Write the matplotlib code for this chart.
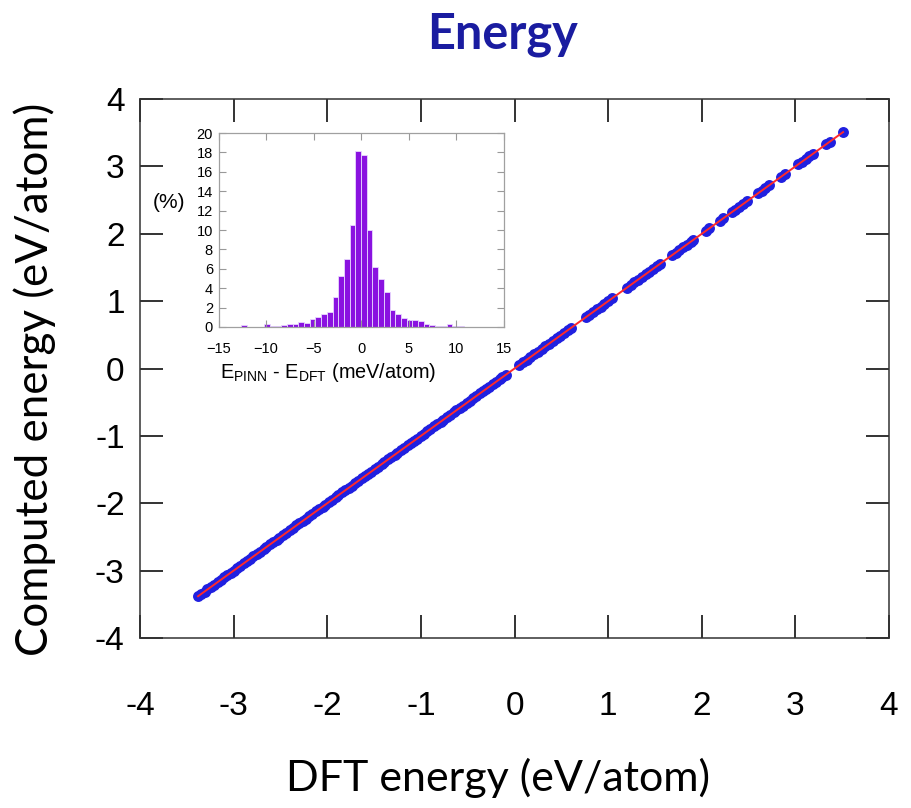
import numpy as np
import matplotlib.pyplot as plt

plt.rcParams['font.family'] = ['Liberation Sans', 'DejaVu Sans']

# parity data (eV/atom)
dft_energy = [-3.38, -3.35, -3.31, -3.28, -3.24, -3.21, -3.17, -3.14, -3.10, -3.07,
              -3.03, -3.00, -2.96, -2.93, -2.89, -2.86, -2.82, -2.79, -2.75, -2.72,
              -2.68, -2.65, -2.61, -2.58, -2.54, -2.51, -2.47, -2.44, -2.40, -2.37,
              -2.33, -2.30, -2.26, -2.23, -2.19, -2.16, -2.12, -2.09, -2.05, -2.02,
              -1.98, -1.95, -1.91, -1.88, -1.84, -1.81, -1.77, -1.74, -1.70, -1.67,
              -1.63, -1.60, -1.56, -1.53, -1.49, -1.46, -1.42, -1.39, -1.35, -1.32,
              -1.28, -1.25, -1.21, -1.18, -1.14, -1.11, -1.07, -1.04, -1.00, -0.97,
              -0.93, -0.90, -0.86, -0.83, -0.79, -0.76, -0.72, -0.69, -0.65, -0.62,
              -0.58, -0.55, -0.51, -0.48, -0.44, -0.41, -0.37, -0.34, -0.30, -0.27,
              -0.23, -0.20, -0.16, -0.13, -0.09,
              0.05, 0.09, 0.13, 0.17, 0.21, 0.25, 0.29, 0.33, 0.37, 0.41,
              0.45, 0.49, 0.53, 0.57, 0.60,
              0.76, 0.80, 0.84, 0.88, 0.92, 0.96, 1.00, 1.04,
              1.20, 1.24, 1.28, 1.32, 1.36, 1.40, 1.44, 1.48, 1.52, 1.55,
              1.68, 1.72, 1.76, 1.80, 1.84, 1.88, 1.91,
              2.04, 2.08, 2.19, 2.23, 2.32, 2.36, 2.40, 2.44, 2.48,
              2.60, 2.64, 2.68, 2.72, 2.85, 2.89,
              3.03, 3.07, 3.11, 3.15, 3.19, 3.33, 3.37, 3.51]
computed_energy = [-3.38, -3.35, -3.31, -3.28, -3.24, -3.21, -3.17, -3.14, -3.10, -3.07,
                   -3.03, -3.00, -2.96, -2.93, -2.89, -2.86, -2.82, -2.79, -2.75, -2.72,
                   -2.68, -2.65, -2.61, -2.58, -2.54, -2.51, -2.47, -2.44, -2.40, -2.37,
                   -2.33, -2.30, -2.26, -2.23, -2.19, -2.16, -2.12, -2.09, -2.05, -2.02,
                   -1.98, -1.95, -1.91, -1.88, -1.84, -1.81, -1.77, -1.74, -1.70, -1.67,
                   -1.63, -1.60, -1.56, -1.53, -1.49, -1.46, -1.42, -1.39, -1.35, -1.32,
                   -1.28, -1.25, -1.21, -1.18, -1.14, -1.11, -1.07, -1.04, -1.00, -0.97,
                   -0.93, -0.90, -0.86, -0.83, -0.79, -0.76, -0.72, -0.69, -0.65, -0.62,
                   -0.58, -0.55, -0.51, -0.48, -0.44, -0.41, -0.37, -0.34, -0.30, -0.27,
                   -0.23, -0.20, -0.16, -0.13, -0.09,
                   0.05, 0.09, 0.13, 0.17, 0.21, 0.25, 0.29, 0.33, 0.37, 0.41,
                   0.45, 0.49, 0.53, 0.57, 0.60,
                   0.76, 0.80, 0.84, 0.88, 0.92, 0.96, 1.00, 1.04,
                   1.20, 1.24, 1.28, 1.32, 1.36, 1.40, 1.44, 1.48, 1.52, 1.55,
                   1.68, 1.72, 1.76, 1.80, 1.84, 1.88, 1.91,
                   2.04, 2.08, 2.19, 2.23, 2.32, 2.36, 2.40, 2.44, 2.48,
                   2.60, 2.64, 2.68, 2.72, 2.85, 2.89,
                   3.03, 3.07, 3.11, 3.15, 3.19, 3.33, 3.37, 3.51]

# error histogram, 50 bins of 0.6 meV/atom from -15 to 15
bin_left = [-15.0, -14.4, -13.8, -13.2, -12.6, -12.0, -11.4, -10.8, -10.2, -9.6,
            -9.0, -8.4, -7.8, -7.2, -6.6, -6.0, -5.4, -4.8, -4.2, -3.6,
            -3.0, -2.4, -1.8, -1.2, -0.6, 0.0, 0.6, 1.2, 1.8, 2.4,
            3.0, 3.6, 4.2, 4.8, 5.4, 6.0, 6.6, 7.2, 7.8, 8.4,
            9.0, 9.6, 10.2, 10.8, 11.4, 12.0, 12.6, 13.2, 13.8, 14.4]
percent = [0.02, 0.02, 0.02, 0.03, 0.2, 0.05, 0.05, 0.05, 0.28, 0.1,
           0.15, 0.25, 0.3, 0.35, 0.5, 0.45, 0.8, 1.0, 1.35, 1.5,
           3.1, 5.3, 7.0, 10.5, 18.2, 17.7, 10.0, 6.2, 4.9, 3.6,
           1.75, 1.35, 0.95, 0.7, 0.75, 0.65, 0.3, 0.25, 0.15, 0.15,
           0.3, 0.15, 0.12, 0.05, 0.02, 0.02, 0.02, 0.02, 0.02, 0.02]

fig = plt.figure(figsize=(9.12, 8.08), dpi=100)
ax = fig.add_axes([0.1535, 0.2104, 0.8213, 0.667])

ax.scatter(dft_energy, computed_energy, s=62, color='#2020e0', zorder=2, linewidths=0)
ax.plot(dft_energy, computed_energy, color='#ff2a2a', lw=1.4, zorder=3)

ax.set_xlim(-4, 4)
ax.set_ylim(-4, 4)
ax.set_xticks(np.arange(-4, 5, 1))
ax.set_yticks(np.arange(-4, 5, 1))
ax.set_xticklabels(['-4', '-3', '-2', '-1', '0', '1', '2', '3', '4'])
ax.set_yticklabels(['-4', '-3', '-2', '-1', '0', '1', '2', '3', '4'])
ax.tick_params(direction='in', length=16.5, width=1.4, color='#333333',
               labelsize=24, top=True, right=True)
ax.tick_params(axis='x', pad=38)
ax.tick_params(axis='y', pad=11)
for s in ax.spines.values():
    s.set_linewidth(1.1)
    s.set_color('#333333')

# labels in a Calibri-like face
fig.text(0.551, 0.957, 'Energy', ha='center', va='center', fontsize=35,
         fontweight='bold', color='#1a1ca0', family='Lato')
fig.text(0.038, 0.53, 'Computed energy (eV/atom)', ha='center', va='center',
         rotation=90, fontsize=31.6, family='Lato')
fig.text(0.546, 0.037, 'DFT energy (eV/atom)', ha='center', va='center',
         fontsize=31, family='Lato')

# inset histogram
ins = fig.add_axes([0.2396, 0.5953, 0.3125, 0.240])
ins.bar(bin_left, percent, width=0.6, align='edge', color='#8a12e0',
        edgecolor='#e8d8ff', linewidth=0.6)
ins.set_xlim(-15, 15)
ins.set_ylim(0, 20)
ins.set_xticks([-15, -10, -5, 0, 5, 10, 15])
ins.set_yticks(np.arange(0, 21, 2))
ins.tick_params(direction='in', length=5, width=0.8, color='#999999',
                labelsize=10.5, top=True, right=True)
ins.tick_params(axis='x', pad=11)
ins.tick_params(axis='y', pad=4)
for s in ins.spines.values():
    s.set_linewidth(0.9)
    s.set_color('#a0a0a0')
fig.text(0.360, 0.539, r'E$_\mathregular{PINN}$ - E$_\mathregular{DFT}$ (meV/atom)',
         ha='center', va='center', fontsize=14.3)
fig.text(0.185, 0.749, '(%)', ha='center', va='center', fontsize=15)

plt.savefig('out.png', dpi=100)
